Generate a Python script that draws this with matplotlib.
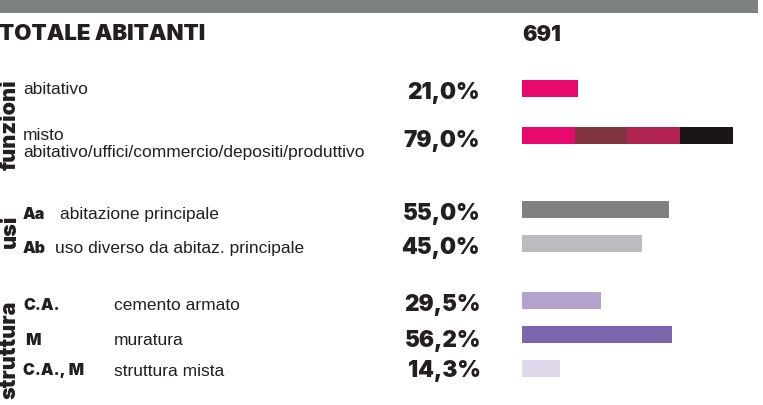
import matplotlib.pyplot as plt
from matplotlib.patches import Rectangle

plt.rcParams['font.family'] = ['Liberation Sans', 'DejaVu Sans']

# data
totale = 691
funzioni_labels = ["abitativo", "misto\nabitativo/uffici/commercio/depositi/produttivo"]
funzioni_pct = [21.0, 79.0]
misto_parts = [19.8, 19.7, 19.6, 19.9]
misto_colors = ["#E8096F", "#823340", "#B02350", "#1C1516"]

usi_codes = ["Aa", "Ab"]
usi_labels = ["abitazione principale", "uso diverso da abitaz. principale"]
usi_pct = [55.0, 45.0]
usi_colors = ["#808080", "#BBBCBF"]

strutt_codes = ["C.A.", " M", "C.A., M"]
strutt_labels = ["cemento armato", "muratura", "struttura mista"]
strutt_pct = [29.5, 56.2, 14.3]
strutt_colors = ["#B3A1CE", "#7B65AD", "#E0D8EB"]

W, H = 763, 405
fig = plt.figure(figsize=(W / 100, H / 100), dpi=100)

# background axes in pixel coordinates, for the text
ax = fig.add_axes([0, 0, 1, 1])
ax.set_xlim(0, W)
ax.set_ylim(H, 0)
ax.axis("off")

# bar axes: starts at x=522 px, 2.67 px per percent
px_per_pct = 2.67
bx = fig.add_axes([522 / W, 0, (W - 522) / W, 1])
bx.set_xlim(0, (W - 522) / px_per_pct)
bx.set_ylim(H, 0)
bx.axis("off")

ax.add_patch(Rectangle((0, 0), 758, 13, color="#7F8283", lw=0))

dark = "#231F20"
heavy = dict(family="Inter", fontweight=900, color=dark)
big = 16.2
ax.text(-1, 40.5, "TOTALE ABITANTI", fontsize=16, **heavy)
ax.text(522, 41, str(totale), fontsize=15.5, **heavy)

def pct(v):
    return f"{v:.1f}%".replace(".", ",")

# funzioni
bar_h = 17
y_fun = [88.5, 135.5]
bx.barh(y_fun[0], funzioni_pct[0], height=bar_h, color=misto_colors[0], lw=0)
left = 0
for v, c in zip(misto_parts, misto_colors):
    bx.barh(y_fun[1], v, left=left, height=bar_h, color=c, lw=0)
    left += v
ax.text(23, 94.3, funzioni_labels[0], fontsize=12.5, color=dark)
ax.text(23, 157, funzioni_labels[1], fontsize=12.5, color=dark, linespacing=1.2)
for yb, v in zip([99, 146.5], funzioni_pct):
    ax.text(480, yb, pct(v), fontsize=big, ha="right", **heavy)
ax.text(9.5, 125, "funzioni", rotation=90, fontsize=15.5,
        ha="center", va="center", **heavy)

# usi
y_usi = [209, 243]
bx.barh(y_usi, usi_pct, height=bar_h, color=usi_colors, lw=0)
for yb, code, lab, v in zip([219.3, 252.7], usi_codes, usi_labels, usi_pct):
    ax.text(23, yb, code, fontsize=11.5, **heavy)
    ax.text(60 if code == "Aa" else 55, yb, lab, fontsize=12.5, color=dark)
    ax.text(480, yb + 1, pct(v), fontsize=big, ha="right", **heavy)
ax.text(9.5, 231, "usi", rotation=90, fontsize=15.5,
        ha="center", va="center", **heavy)

# struttura
y_str = [300, 334, 368]
bx.barh(y_str, strutt_pct, height=bar_h, color=strutt_colors, lw=0)
for yb, code, lab, v in zip([310, 345.3, 375.5], strutt_codes, strutt_labels, strutt_pct):
    ax.text(23, yb, code, fontsize=11.5, **heavy)
    ax.text(114, yb, lab, fontsize=12.5, color=dark)
    ax.text(481, yb + 1.5, pct(v), fontsize=big, ha="right", **heavy)
ax.text(9.5, 350, "struttura", rotation=90, fontsize=15.5,
        ha="center", va="center", **heavy)

fig.savefig("out.png", dpi=100, facecolor="white")
